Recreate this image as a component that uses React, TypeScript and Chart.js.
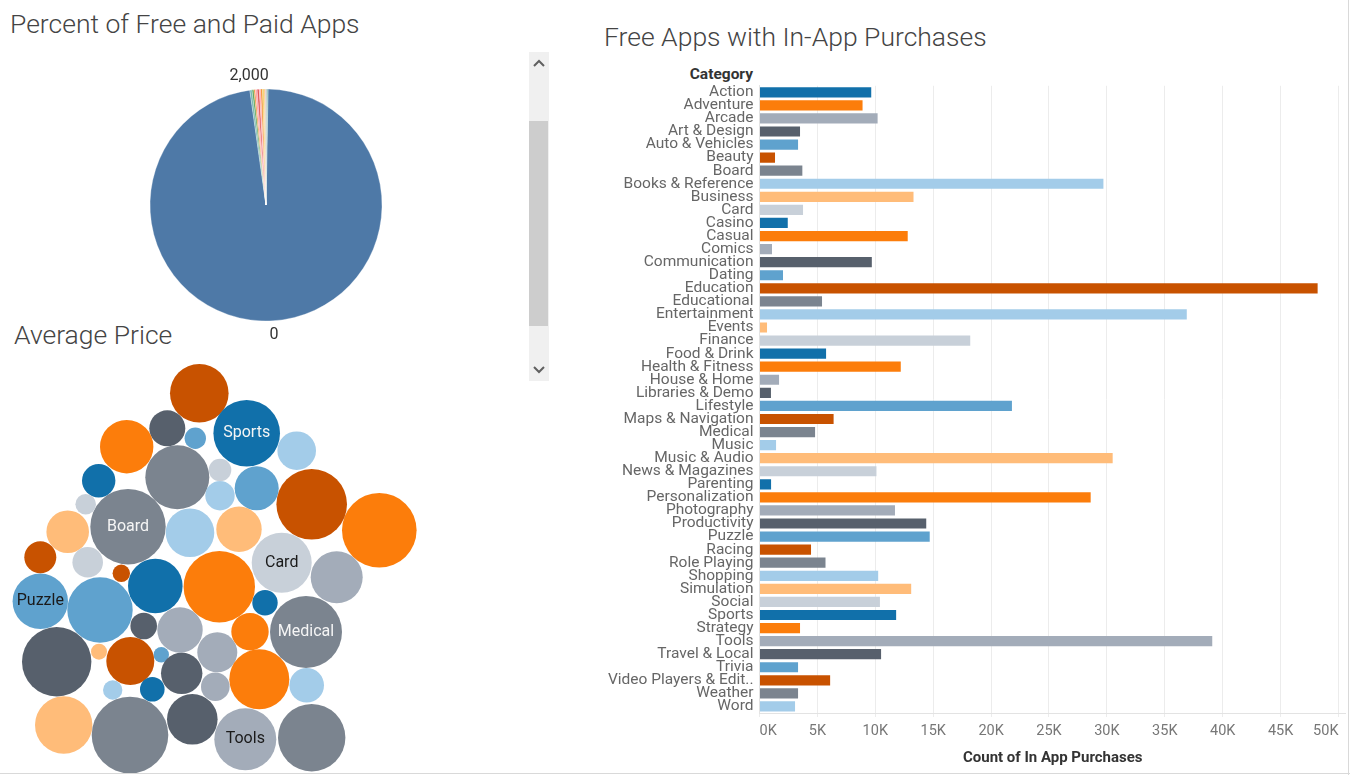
import React, { useEffect, useRef } from 'react';
import { Chart, registerables } from 'chart.js';

Chart.register(...registerables);

// ---------- Shared data ----------
const categories = [
  'Action', 'Adventure', 'Arcade', 'Art & Design', 'Auto & Vehicles', 'Beauty', 'Board',
  'Books & Reference', 'Business', 'Card', 'Casino', 'Casual', 'Comics', 'Communication',
  'Dating', 'Education', 'Educational', 'Entertainment', 'Events', 'Finance', 'Food & Drink',
  'Health & Fitness', 'House & Home', 'Libraries & Demo', 'Lifestyle', 'Maps & Navigation',
  'Medical', 'Music', 'Music & Audio', 'News & Magazines', 'Parenting', 'Personalization',
  'Photography', 'Productivity', 'Puzzle', 'Racing', 'Role Playing', 'Shopping', 'Simulation',
  'Social', 'Sports', 'Strategy', 'Tools', 'Travel & Local', 'Trivia', 'Video Players & Edit..',
  'Weather', 'Word',
];

const inAppPurchaseCounts = [
  9650, 8900, 10200, 3500, 3330, 1340, 3700, 29700, 13300, 3760, 2440, 12800, 1080, 9700,
  2030, 48200, 5400, 36900, 650, 18200, 5750, 12200, 1690, 990, 21800, 6400, 4800, 1430,
  30500, 10100, 1000, 28600, 11700, 14400, 14700, 4450, 5700, 10250, 13100, 10400, 11800,
  3500, 39100, 10500, 3330, 6100, 3330, 3070,
];

const xTickValues = [0, 5000, 10000, 15000, 20000, 25000, 30000, 35000, 40000, 45000, 50000];
const xAxisMax = 50650;

const palette = [
  '#1170aa', '#fc7d0b', '#a3acb9', '#57606c', '#5fa2ce',
  '#c85200', '#7b848f', '#a3cce9', '#ffbc79', '#c8d0d9',
];

// ---------- Pie data ----------
const priceTiers = ['0', '2,000', '0.99', '1.49', '1.99', '2.49', '2.99', '3.99', '4.99', '5.99', '9.99', '14.99'];
const appShare = [97.5, 0.3, 0.25, 0.2, 0.25, 0.3, 0.2, 0.25, 0.2, 0.2, 0.2, 0.15];
const pieColors = [
  '#4e79a7', '#76b7b2', '#59a14f', '#f28e2b', '#ff9da7', '#e15759',
  '#ff9da7', '#f28e2b', '#edc948', '#ffbe7d', '#bab0ac', '#76b7b2',
];
const pieShownLabels = ['0', '2,000'];

// ---------- Bubble (packed) layout, one per category ----------
const bubbleX = [
  155.3, 219.3, 336.7, 167.3, 161.3, 121.3, 128, 296.7, 67.7, 281.7, 98.7, 126.7, 217.3, 181.7,
  195.3, 199.3, 177.3, 190, 99, 87.7, 265, 259.3, 215.3, 143.7, 256.7, 130.3, 306, 220, 63.7,
  220, 152.3, 250, 180, 56.7, 40.3, 40.3, 130, 306.7, 239, 85.7, 246.7, 379.3, 245.3, 192.3,
  100, 311.7, 311.7, 112.7,
];
const bubbleY = [
  226, 226.7, 217.3, 68.3, 294.7, 213.3, 166.7, 90.7, 171.7, 202.7, 120.7, 86.7, 292.3, 313.3,
  78.3, 33.3, 117.3, 172.7, 291.7, 202.3, 242.7, 319.3, 326.7, 266, 128.3, 301, 272, 135.7, 365,
  110, 329.3, 271.7, 270, 301.7, 241.3, 197.3, 375, 325.3, 169.3, 144.3, 73.3, 170.3, 379.3,
  359.3, 250, 144.3, 377.7, 330,
];
const bubbleRadius = [
  27.3, 35.7, 26, 18, 7.7, 8.7, 37.7, 19.3, 21.3, 30, 16.7, 26.7, 20, 20.7, 10.7, 29.3, 32,
  24.3, 8, 15.3, 12.7, 30, 14.3, 13.3, 22, 24, 36, 14.7, 28.7, 11.3, 12.3, 18.7, 22.7, 34.7,
  27.7, 16, 38.3, 17.3, 22.7, 10.3, 33.3, 37.3, 31, 25.3, 32.7, 35.3, 33.7, 9.7,
];
const bubbleLabeled = ['Sports', 'Board', 'Card', 'Puzzle', 'Medical', 'Tools'];
const bubbleDarkText = ['Card', 'Puzzle', 'Tools'];

const FONT = 'Roboto';

// ---------- Pie ----------
const pieLabelPlugin = {
  id: 'pieLabels',
  afterDatasetsDraw(chart: any) {
    const ctx = chart.ctx;
    const meta = chart.getDatasetMeta(0);
    meta.data.forEach((arc: any, i: number) => {
      const lbl = priceTiers[i];
      if (!pieShownLabels.includes(lbl)) return;
      const p = arc.getProps(['x', 'y', 'startAngle', 'endAngle', 'outerRadius'], true);
      const mid = (p.startAngle + p.endAngle) / 2;
      const d = p.outerRadius + 14;
      ctx.save();
      ctx.font = `16px ${FONT}`;
      ctx.fillStyle = '#333';
      ctx.textAlign = 'center';
      ctx.textBaseline = 'middle';
      ctx.fillText(lbl, p.x + Math.cos(mid) * d, p.y + Math.sin(mid) * d);
      ctx.restore();
    });
  },
};

function PieChart() {
  const ref = useRef<HTMLCanvasElement>(null);
  useEffect(() => {
    const chart = new Chart(ref.current!, {
      type: 'pie',
      data: {
        labels: priceTiers,
        datasets: [{
          data: appShare,
          backgroundColor: pieColors,
          borderColor: 'rgba(255,255,255,0.6)',
          borderWidth: 0.5,
          radius: 116,
        } as any],
      },
      options: {
        animation: false,
        responsive: true,
        maintainAspectRatio: false,
        rotation: 1,
        layout: { padding: 0 },
        plugins: { legend: { display: false } },
      },
      plugins: [pieLabelPlugin],
    });
    return () => chart.destroy();
  }, []);
  return (
    <div style={{ position: 'absolute', left: 126, top: 60, width: 280, height: 290 }}>
      <canvas ref={ref} />
    </div>
  );
}

// ---------- Bubbles ----------
const bubbleLabelPlugin = {
  id: 'bubbleLabels',
  afterDatasetsDraw(chart: any) {
    const ctx = chart.ctx;
    const meta = chart.getDatasetMeta(0);
    meta.data.forEach((el: any, i: number) => {
      const name = categories[i];
      if (!bubbleLabeled.includes(name)) return;
      ctx.save();
      ctx.font = `16px ${FONT}`;
      ctx.fillStyle = bubbleDarkText.includes(name) ? '#1a1a1a' : '#f5f5f5';
      ctx.textAlign = 'center';
      ctx.textBaseline = 'middle';
      ctx.fillText(name, el.x, el.y);
      ctx.restore();
    });
  },
};

const BUBBLE_PAD = 40;

function BubbleChart() {
  const ref = useRef<HTMLCanvasElement>(null);
  useEffect(() => {
    const chart = new Chart(ref.current!, {
      type: 'bubble',
      data: {
        datasets: [{
          label: 'Average Price',
          data: categories.map((_, i) => ({ x: bubbleX[i], y: bubbleY[i], r: bubbleRadius[i] })),
          backgroundColor: categories.map((_, i) => palette[i % 10]),
          borderWidth: 0,
          hoverBorderWidth: 0,
          hoverRadius: 0,
        } as any],
      },
      options: {
        animation: false,
        responsive: true,
        maintainAspectRatio: false,
        clip: false as any,
        layout: { padding: BUBBLE_PAD },
        scales: {
          x: { display: false, min: 0, max: 430 },
          y: { display: false, min: 0, max: 414, reverse: true },
        },
        plugins: { legend: { display: false } },
      },
      plugins: [bubbleLabelPlugin],
    });
    return () => chart.destroy();
  }, []);
  return (
    <div style={{ position: 'absolute', left: -BUBBLE_PAD, top: 360 - BUBBLE_PAD, width: 430 + 2 * BUBBLE_PAD, height: 414 + 2 * BUBBLE_PAD }}>
      <canvas ref={ref} />
    </div>
  );
}

// ---------- Bars ----------
const BAR_LEFT = 580;
const BAR_TOP = 72;
const BAR_RIGHT = 1346;
const BAR_BOTTOM = 773;

function BarChart() {
  const ref = useRef<HTMLCanvasElement>(null);
  useEffect(() => {
    const chart = new Chart(ref.current!, {
      type: 'bar',
      data: {
        labels: categories,
        datasets: [{
          label: 'Count of In App Purchases',
          data: inAppPurchaseCounts,
          backgroundColor: categories.map((_, i) => palette[i % 10]),
          borderWidth: 0,
          categoryPercentage: 1,
          barPercentage: 0.78,
        }],
      },
      options: {
        animation: false,
        responsive: true,
        maintainAspectRatio: false,
        indexAxis: 'y',
        layout: { padding: 0 },
        plugins: { legend: { display: false } },
        scales: {
          x: {
            min: 0,
            max: xAxisMax,
            afterBuildTicks: (s: any) => { s.ticks = xTickValues.map((v) => ({ value: v })); },
            ticks: {
              maxRotation: 0,
              padding: 6,
              align: 'inner',
              color: '#777',
              font: { family: FONT, size: 14.5 },
              callback: (v: any) => `${Number(v) / 1000}K`,
            },
            grid: { color: '#ececec', tickLength: 4, tickColor: '#ececec' },
            border: { display: true, color: '#e3e3e3' },
            title: {
              display: true,
              text: 'Count of In App Purchases',
              color: '#333',
              font: { family: FONT, size: 15, weight: 'bold' },
              padding: { top: 0, bottom: 6 },
            },
            afterFit: (s: any) => { s.height = 60; },
          } as any,
          y: {
            ticks: {
              autoSkip: false,
              padding: 6,
              color: '#666',
              font: { family: FONT, size: 15.5, lineHeight: 1 },
            },
            grid: { display: false, drawTicks: false },
            border: { display: true, color: '#e3e3e3' },
            afterFit: (s: any) => { s.width = 759.5 - BAR_LEFT; },
          },
        },
      },
    });
    return () => chart.destroy();
  }, []);
  return (
    <div style={{ position: 'absolute', left: BAR_LEFT, top: BAR_TOP, width: BAR_RIGHT - BAR_LEFT, height: BAR_BOTTOM - BAR_TOP }}>
      <canvas ref={ref} />
    </div>
  );
}

// ---------- Scrollbar ----------
function ScrollBar() {
  return (
    <div style={{ position: 'absolute', left: 529, top: 52, width: 20, height: 329, background: '#f0f0f0' }}>
      <div style={{ position: 'absolute', left: 0, top: 69, width: 19, height: 205, background: '#cdcdcd' }} />
      <svg width="20" height="329" style={{ position: 'absolute', left: 0, top: 0 }}>
        <polyline points="5,14 10,9 15,14" fill="none" stroke="#606060" strokeWidth="2" />
        <polyline points="5,315 10,320 15,315" fill="none" stroke="#606060" strokeWidth="2" />
      </svg>
    </div>
  );
}

const titleStyle: React.CSSProperties = {
  position: 'absolute',
  fontFamily: FONT,
  fontSize: 26.5,
  lineHeight: '30px',
  color: '#444',
  whiteSpace: 'nowrap',
  fontWeight: 300,
};

export default function App() {
  return (
    <div style={{ position: 'absolute', left: 0, top: 0, width: 1350, height: 775, background: '#fff', overflow: 'hidden' }}>
      <div style={{ ...titleStyle, left: 10, top: 9 }}>Percent of Free and Paid Apps</div>
      <div style={{ ...titleStyle, left: 14, top: 320 }}>Average Price</div>
      <div style={{ ...titleStyle, left: 604, top: 22 }}>Free Apps with In-App Purchases</div>
      <div style={{ position: 'absolute', left: 590, width: 163, top: 65, textAlign: 'right', fontFamily: FONT, fontSize: 15.5, fontWeight: 'bold', color: '#333', lineHeight: '18px' }}>Category</div>
      <PieChart />
      <BubbleChart />
      <ScrollBar />
      <BarChart />
      <div style={{ position: 'absolute', left: 1348, top: 0, width: 1, height: 775, background: '#d9d9d9' }} />
      <div style={{ position: 'absolute', left: 0, top: 773, width: 1350, height: 1, background: '#d9d9d9' }} />
    </div>
  );
}
